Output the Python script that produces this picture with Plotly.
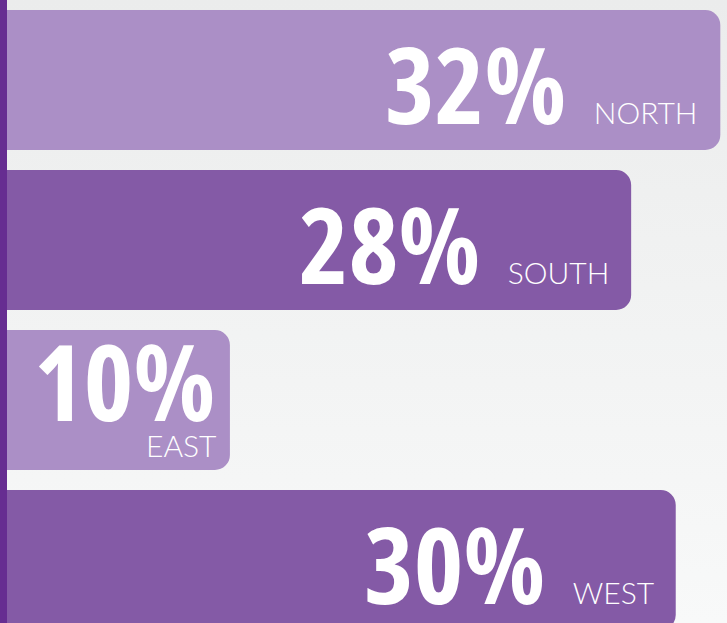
import plotly.graph_objects as go

regions = ["NORTH", "SOUTH", "EAST", "WEST"]
shares = [32, 28, 10, 30]
bar_colors = ["#ab8fc6", "#845aa6", "#ab8fc6", "#845aa6"]

NUM_FONT = "Open Sans, sans-serif"
LAB_FONT = "Lato, Open Sans, sans-serif"
NUM_STYLE = "font-stretch:78%"

fig = go.Figure()

# background gradient (on its own hidden subplot)
fig.add_trace(go.Scatter(
    x=[0, 1, 1, 0, 0], y=[0, 0, 1, 1, 0], xaxis="x", yaxis="y",
    mode="none", fill="toself", hoverinfo="skip", showlegend=False,
    fillgradient=dict(type="vertical",
                      colorscale=[[0, "#f8f9f9"], [1, "#ebecec"]]),
))

fig.add_trace(go.Bar(
    x=shares, y=regions, orientation="h", xaxis="x2", yaxis="y2",
    marker=dict(color=bar_colors, line=dict(width=0)),
    hoverinfo="skip", showlegend=False,
))

annotations = []
for name, v in zip(regions, shares):
    if v >= 15:
        annotations.append(dict(
            x=v, y=name, xref="x2", yref="y2", xanchor="right", yanchor="middle",
            xshift=-20, yshift=-3, showarrow=False,
            text=(f"<span style='{NUM_STYLE}'>{v}%</span> "
                  f"<span style='font-family:{LAB_FONT};font-weight:300;"
                  f"font-size:30px'>{name}</span>"),
            font=dict(family=NUM_FONT, size=106, color="white", weight=700),
        ))
    else:
        annotations.append(dict(
            x=v, y=name, xref="x2", yref="y2", xanchor="right", yanchor="middle",
            xshift=-13, yshift=20, showarrow=False,
            text=f"<span style='{NUM_STYLE}'>{v}%</span>",
            font=dict(family=NUM_FONT, size=106, color="white", weight=700),
        ))
        annotations.append(dict(
            x=v, y=name, xref="x2", yref="y2", xanchor="right", yanchor="middle",
            xshift=-11, yshift=-45, showarrow=False, text=name,
            font=dict(family=LAB_FONT, size=30, color="white", weight=300),
        ))

fig.update_layout(
    width=727, height=623,
    margin=dict(l=0, r=0, t=0, b=0),
    paper_bgcolor="#f2f3f3", plot_bgcolor="rgba(0,0,0,0)",
    xaxis=dict(domain=[0, 1], range=[0, 1], visible=False, fixedrange=True),
    yaxis=dict(domain=[0, 1], range=[0, 1], visible=False, fixedrange=True),
    xaxis2=dict(domain=[7 / 727, 1], range=[0, 32.3], anchor="y2",
                visible=False, fixedrange=True),
    yaxis2=dict(domain=[0, 1], anchor="x2", type="category",
                categoryorder="array", categoryarray=regions,
                range=[3.39375, -0.5], visible=False, fixedrange=True),
    bargap=0.125, barcornerradius=15,
    annotations=annotations,
    shapes=[dict(type="rect", xref="paper", yref="paper",
                 x0=0, x1=7 / 727, y0=0, y1=1,
                 fillcolor="#662d91", line=dict(width=0), layer="above")],
)

fig.write_html("out.html", config={"displayModeBar": False},
               post_script="document.body.style.margin='0';")
